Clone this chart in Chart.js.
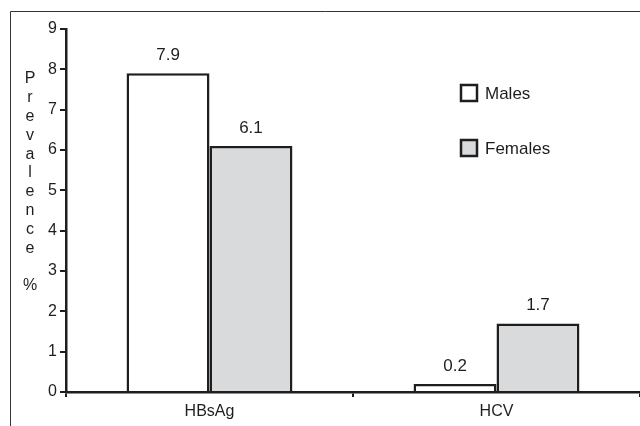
<!DOCTYPE html>
<html>
<head>
<meta charset="utf-8">
<script src="https://cdn.jsdelivr.net/npm/chart.js@4/dist/chart.umd.min.js"></script>
<style>
  html, body { margin: 0; padding: 0; background: #fff; }
  canvas { display: block; }
</style>
</head>
<body>
<canvas id="chart" width="640" height="426" style="width:640px;height:426px"></canvas>
<script>
const categories = ['HBsAg', 'HCV']
const males = [7.9, 0.2]
const females = [6.1, 1.7]
const yTitle = 'Prevalence %'

const ink = '#1e1e1e'
const font = '"Liberation Sans", Arial, sans-serif'

// frame, stacked axis title, legend and value labels
const extras = {
  id: 'extras',
  beforeDraw (chart) {
    const ctx = chart.ctx
    ctx.save()
    ctx.strokeStyle = '#333'
    ctx.lineWidth = 1
    ctx.beginPath()
    ctx.moveTo(10.5, 426)
    ctx.lineTo(10.5, 11.5)
    ctx.lineTo(640, 11.5)
    ctx.stroke()
    ctx.restore()
  },
  afterDraw (chart) {
    const ctx = chart.ctx
    ctx.save()
    ctx.fillStyle = ink
    ctx.font = '16px ' + font
    ctx.textAlign = 'center'
    ctx.textBaseline = 'middle'

    // vertical letters of the y title
    yTitle.split('').forEach((ch, i) => {
      ctx.fillText(ch, 30, 79 + i * 18.8)
    })

    // value labels above bars
    ctx.font = '17px ' + font
    chart.data.datasets.forEach((ds, di) => {
      chart.getDatasetMeta(di).data.forEach((bar, i) => {
        ctx.fillText(ds.data[i].toFixed(1), bar.x, bar.y - 18)
      })
    })

    // legend
    ctx.textAlign = 'left'
    chart.data.datasets.forEach((ds, di) => {
      const top = 85 + di * 55
      ctx.fillStyle = ds.backgroundColor
      ctx.fillRect(461, top, 16, 16)
      ctx.strokeStyle = ink
      ctx.lineWidth = 2.5
      ctx.strokeRect(461, top, 16, 16)
      ctx.fillStyle = ink
      ctx.fillText(ds.label, 485, top + 9)
    })
    ctx.restore()
  }
}

new Chart('chart', {
  type: 'bar',
  data: {
    labels: categories,
    datasets: [{
      label: 'Males',
      data: males,
      backgroundColor: '#ffffff',
      borderColor: ink,
      borderWidth: 2.5
    }, {
      label: 'Females',
      data: females,
      backgroundColor: '#d9dadc',
      borderColor: ink,
      borderWidth: 2.5
    }]
  },
  options: {
    responsive: false,
    animation: false,
    devicePixelRatio: 1,
    layout: { padding: { top: 29, left: 0, right: 0, bottom: 0 } },
    categoryPercentage: 0.578,
    barPercentage: 1,
    plugins: {
      legend: { display: false },
      tooltip: { enabled: false }
    },
    scales: {
      x: {
        afterFit (scale) { scale.height = 34 },
        border: { color: ink, width: 2.5 },
        grid: { drawOnChartArea: false, tickLength: 5, color: ink, lineWidth: 2 },
        ticks: { color: ink, font: { family: font, size: 16 }, padding: 5 }
      },
      y: {
        min: 0,
        max: 9,
        afterFit (scale) { scale.width = 66 },
        border: { color: ink, width: 2.5 },
        grid: { drawOnChartArea: false, tickLength: 6, color: ink, lineWidth: 2 },
        ticks: { stepSize: 1, color: ink, font: { family: font, size: 16 }, padding: 3 }
      }
    }
  },
  plugins: [extras]
})
</script>
</body>
</html>
